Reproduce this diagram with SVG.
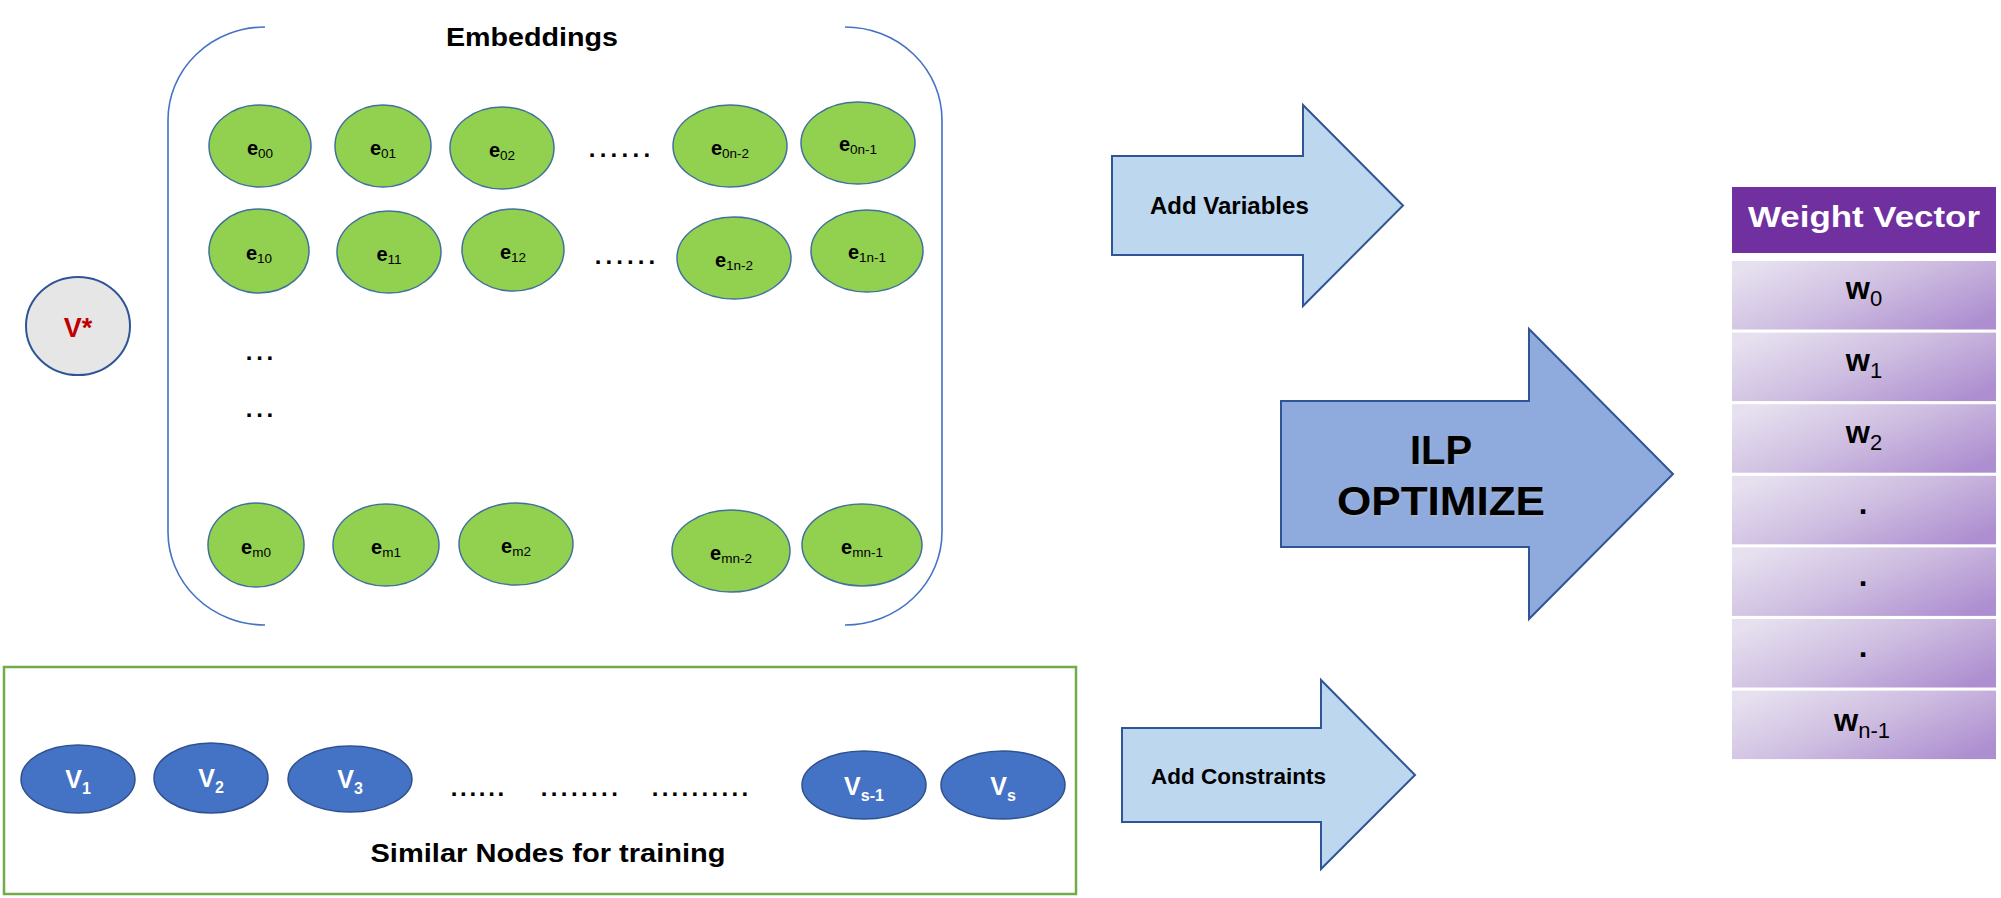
<svg xmlns="http://www.w3.org/2000/svg" width="2001" height="898" viewBox="0 0 2001 898">
<defs>
<linearGradient id="rowGrad" x1="0" y1="0.2" x2="1" y2="0.8">
<stop offset="0" stop-color="#E6E0EF"/>
<stop offset="0.5" stop-color="#CDBCE0"/>
<stop offset="1" stop-color="#AD8ED0"/>
</linearGradient>
</defs>
<style>
text { font-family: "Liberation Sans", Arial, sans-serif; }
.emb { fill: #92D050; stroke: #41719C; stroke-width: 1.5; }
.vn { fill: #4472C4; stroke: #2F528F; stroke-width: 1.5; }
.el { font-size: 20px; font-weight: bold; fill: #000; text-anchor: middle; }
.es { font-size: 13.5px; font-weight: normal; }
.vl { font-size: 25px; font-weight: bold; fill: #fff; text-anchor: middle; }
.vs { font-size: 16px; }
.dots { font-size: 24px; font-weight: bold; fill: #000; }
.bracket { fill: none; stroke: #4472C4; stroke-width: 1.6; }
.lightArrow { fill: #BDD7EE; stroke: #2F5597; stroke-width: 2; }
.darkArrow { fill: #8FAADC; stroke: #2F5597; stroke-width: 2; }
.row { fill: url(#rowGrad); }
.wl { font-size: 31px; font-weight: bold; fill: #000; text-anchor: middle; }
.ws { font-size: 22px; font-weight: normal; }
</style>
<rect width="2001" height="898" fill="#fff"/>

<g id="embeddings-bracket">
<path class="bracket" d="M 265 27 A 97 93 0 0 0 168 120 L 168 532 A 97 93 0 0 0 265 625"/>
<path class="bracket" d="M 845 27 A 97 93 0 0 1 942 120 L 942 532 A 97 93 0 0 1 845 625"/>
<text x="532" y="46" font-size="25" font-weight="bold" text-anchor="middle" textLength="172" lengthAdjust="spacingAndGlyphs">Embeddings</text>
</g>

<g id="v-star">
<ellipse cx="78" cy="326" rx="52" ry="49" fill="#E7E6E6" stroke="#2F5597" stroke-width="2"/>
<text x="78" y="337" font-size="27" font-weight="bold" fill="#C00000" text-anchor="middle">V*</text>
</g>

<g id="e00"><ellipse class="emb" cx="260" cy="146" rx="51" ry="41"/><text class="el" x="260" y="155">e<tspan class="es" dy="3">00</tspan></text></g>
<g id="e01"><ellipse class="emb" cx="383" cy="146" rx="48" ry="41"/><text class="el" x="383" y="155">e<tspan class="es" dy="3">01</tspan></text></g>
<g id="e02"><ellipse class="emb" cx="502" cy="148" rx="52" ry="41"/><text class="el" x="502" y="157">e<tspan class="es" dy="3">02</tspan></text></g>
<g id="e0n-2"><ellipse class="emb" cx="730" cy="146" rx="57" ry="41"/><text class="el" x="730" y="155">e<tspan class="es" dy="3">0n-2</tspan></text></g>
<g id="e0n-1"><ellipse class="emb" cx="858" cy="143" rx="57" ry="41"/><text class="el" x="858" y="151">e<tspan class="es" dy="3">0n-1</tspan></text></g>

<g id="e10"><ellipse class="emb" cx="259" cy="251" rx="50" ry="42"/><text class="el" x="259" y="260">e<tspan class="es" dy="3">10</tspan></text></g>
<g id="e11"><ellipse class="emb" cx="389" cy="252" rx="52" ry="41"/><text class="el" x="389" y="261">e<tspan class="es" dy="3">11</tspan></text></g>
<g id="e12"><ellipse class="emb" cx="513" cy="250" rx="51" ry="41"/><text class="el" x="513" y="259">e<tspan class="es" dy="3">12</tspan></text></g>
<g id="e1n-2"><ellipse class="emb" cx="734" cy="258" rx="57" ry="41"/><text class="el" x="734" y="267">e<tspan class="es" dy="3">1n-2</tspan></text></g>
<g id="e1n-1"><ellipse class="emb" cx="867" cy="251" rx="56" ry="41"/><text class="el" x="867" y="259">e<tspan class="es" dy="3">1n-1</tspan></text></g>

<g id="em0"><ellipse class="emb" cx="256" cy="545" rx="48" ry="42"/><text class="el" x="256" y="554">e<tspan class="es" dy="3">m0</tspan></text></g>
<g id="em1"><ellipse class="emb" cx="386" cy="545" rx="53" ry="41"/><text class="el" x="386" y="554">e<tspan class="es" dy="3">m1</tspan></text></g>
<g id="em2"><ellipse class="emb" cx="516" cy="544" rx="57" ry="41"/><text class="el" x="516" y="553">e<tspan class="es" dy="3">m2</tspan></text></g>
<g id="emn-2"><ellipse class="emb" cx="731" cy="551" rx="59" ry="41"/><text class="el" x="731" y="560">e<tspan class="es" dy="3">mn-2</tspan></text></g>
<g id="emn-1"><ellipse class="emb" cx="862" cy="545" rx="60" ry="41"/><text class="el" x="862" y="554">e<tspan class="es" dy="3">mn-1</tspan></text></g>

<g id="embedding-dots">
<text class="dots" x="588.7" y="157" letter-spacing="4.3">......</text>
<text class="dots" x="594.7" y="264" letter-spacing="4.1">......</text>
<text class="dots" x="245.7" y="360" letter-spacing="3.8">...</text>
<text class="dots" x="245.7" y="417" letter-spacing="3.8">...</text>
</g>

<g id="similar-nodes">
<rect x="4" y="667" width="1072" height="227" fill="none" stroke="#70AD47" stroke-width="2.5"/>
<text x="548" y="862" font-size="25" font-weight="bold" text-anchor="middle" textLength="355" lengthAdjust="spacingAndGlyphs">Similar Nodes for training</text>
<text class="dots" x="450.7" y="796" letter-spacing="2.7">......</text>
<text class="dots" x="540.7" y="796" letter-spacing="3.4">........</text>
<text class="dots" x="651.7" y="796" letter-spacing="3.3">..........</text>
</g>
<g id="v1"><ellipse class="vn" cx="78" cy="779" rx="57" ry="34"/><text class="vl" x="78" y="788">V<tspan class="vs" dy="6">1</tspan></text></g>
<g id="v2"><ellipse class="vn" cx="211" cy="778" rx="57" ry="35"/><text class="vl" x="211" y="787">V<tspan class="vs" dy="6">2</tspan></text></g>
<g id="v3"><ellipse class="vn" cx="350" cy="779" rx="62" ry="33"/><text class="vl" x="350" y="788">V<tspan class="vs" dy="6">3</tspan></text></g>
<g id="vs-1"><ellipse class="vn" cx="864" cy="785" rx="62" ry="34"/><text class="vl" x="864" y="795">V<tspan class="vs" dy="6">s-1</tspan></text></g>
<g id="vs"><ellipse class="vn" cx="1003" cy="785" rx="62" ry="34"/><text class="vl" x="1003" y="795">V<tspan class="vs" dy="6">s</tspan></text></g>

<g id="connectors">
<g id="add-variables">
<polygon class="lightArrow" points="1112,156 1303,156 1303,105 1403,205.5 1303,306 1303,255 1112,255"/>
<text x="1150" y="214" font-size="24" font-weight="bold">Add Variables</text>
</g>
<g id="ilp-optimize">
<polygon class="darkArrow" points="1281,401 1529,401 1529,329 1673,474 1529,619 1529,547 1281,547"/>
<text x="1442" y="466" font-size="40" font-weight="bold" text-anchor="middle" fill="#bbb" opacity="0.5">ILP</text>
<text x="1441" y="464" font-size="40" font-weight="bold" text-anchor="middle">ILP</text>
<text x="1442" y="517" font-size="40" font-weight="bold" text-anchor="middle" textLength="208" lengthAdjust="spacingAndGlyphs" fill="#bbb" opacity="0.5">OPTIMIZE</text>
<text x="1441" y="515" font-size="40" font-weight="bold" text-anchor="middle" textLength="208" lengthAdjust="spacingAndGlyphs">OPTIMIZE</text>
</g>
<g id="add-constraints">
<polygon class="lightArrow" points="1122,728 1321,728 1321,680 1415,775 1321,869 1321,822 1122,822"/>
<text x="1151" y="784" font-size="22.5" font-weight="bold">Add Constraints</text>
</g>
</g>

<g id="weight-vector">
<rect x="1732" y="187" width="264" height="66" fill="#7030A0"/>
<text x="1864" y="227" font-size="29" font-weight="bold" fill="#fff" text-anchor="middle" textLength="232" lengthAdjust="spacingAndGlyphs">Weight Vector</text>
<rect class="row" x="1732" y="261" width="264" height="68.5"/>
<rect class="row" x="1732" y="332.6" width="264" height="68.5"/>
<rect class="row" x="1732" y="404.2" width="264" height="68.5"/>
<rect class="row" x="1732" y="475.8" width="264" height="68.5"/>
<rect class="row" x="1732" y="547.4" width="264" height="68.5"/>
<rect class="row" x="1732" y="619" width="264" height="68.5"/>
<rect class="row" x="1732" y="690.6" width="264" height="68.5"/>
<text class="wl" x="1864" y="299">w<tspan class="ws" dy="7">0</tspan></text>
<text class="wl" x="1864" y="371">w<tspan class="ws" dy="7">1</tspan></text>
<text class="wl" x="1864" y="443">w<tspan class="ws" dy="7">2</tspan></text>
<text class="wl" x="1863" y="514">.</text>
<text class="wl" x="1863" y="586">.</text>
<text class="wl" x="1863" y="657">.</text>
<text class="wl" x="1862" y="731">w<tspan class="ws" dy="7">n-1</tspan></text>
</g>
</svg>
